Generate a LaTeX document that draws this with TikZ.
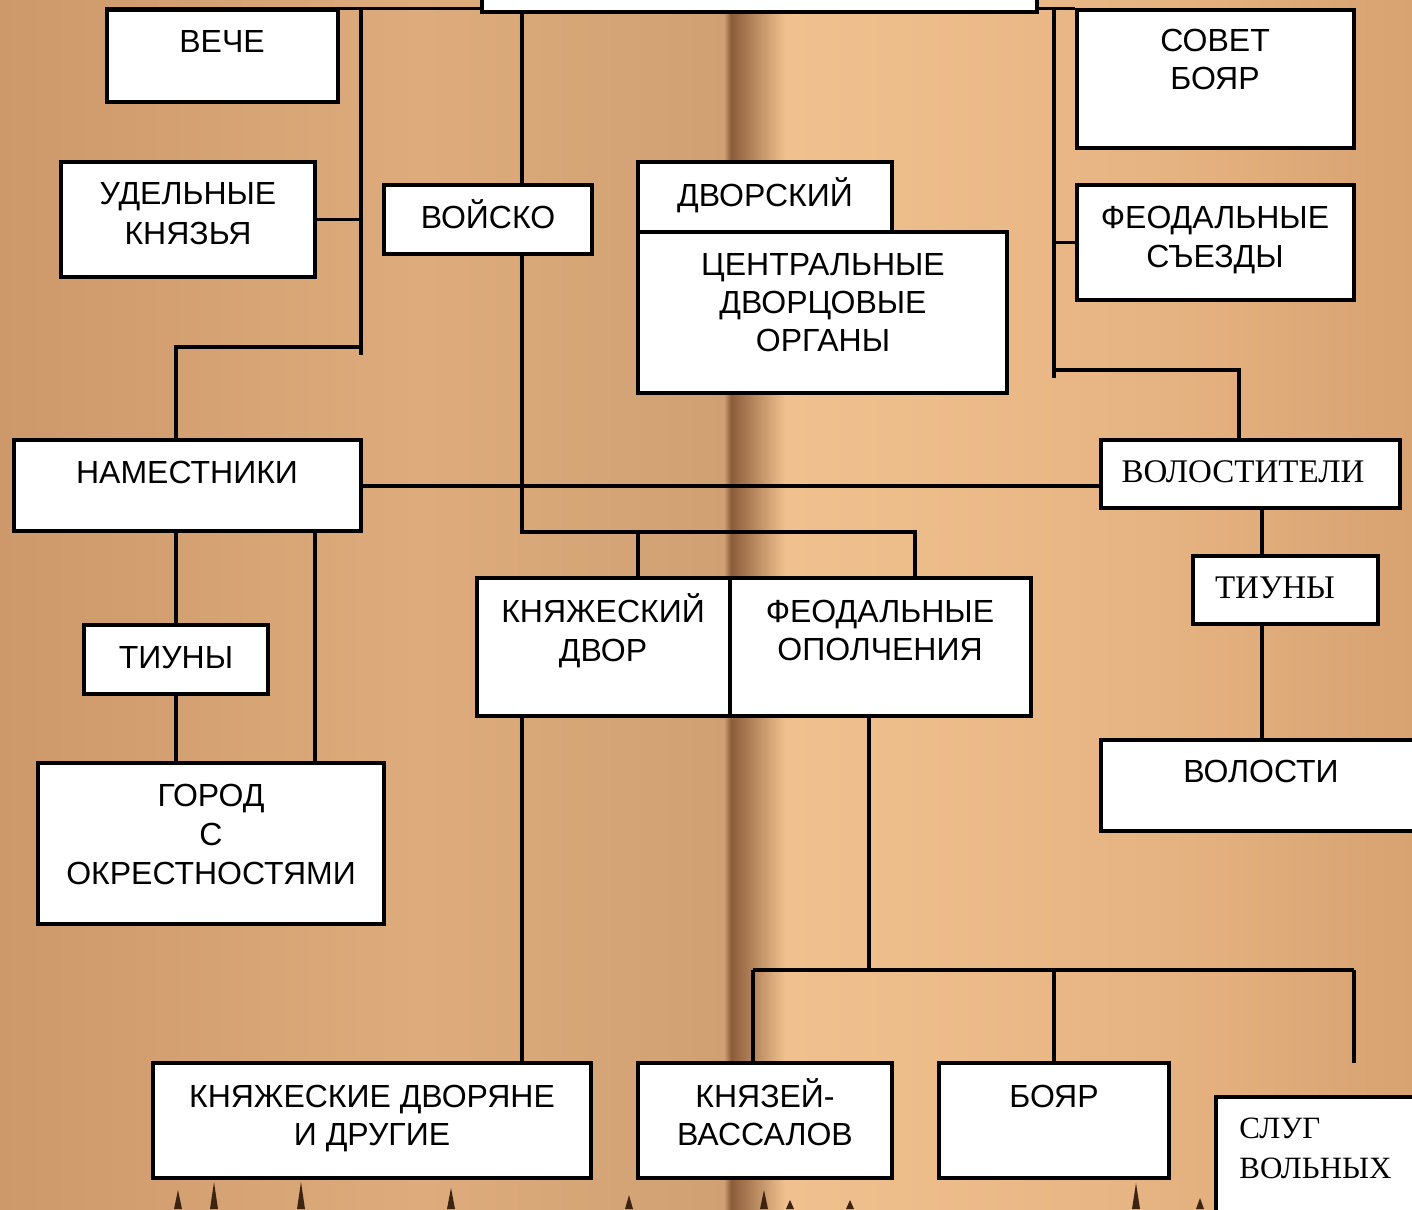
\documentclass[tikz,border=0pt]{standalone}
\usepackage{fontspec}
\setmainfont{Liberation Sans}
\newfontfamily\serifru{Liberation Serif}
\usetikzlibrary{fit}
\definecolor{bgA}{RGB}{205,152,106}
\definecolor{bgB}{RGB}{222,172,124}
\definecolor{bgC}{RGB}{208,160,115}
\definecolor{bgFold}{RGB}{140,92,58}
\definecolor{bgD}{RGB}{240,193,142}
\definecolor{bgE}{RGB}{230,180,130}
\definecolor{bgF}{RGB}{216,162,113}
\definecolor{spike}{RGB}{60,35,18}
\begin{document}
\begin{tikzpicture}[x=0.5pt,y=-0.5pt,
  box/.style={draw=black, fill=white, line width=1.6pt, inner sep=0pt},
  ln/.style={line width=1.6pt, draw=black},
  tx/.style={anchor=base, inner sep=0pt, font=\fontsize{16}{19}\selectfont},
  txs/.style={anchor=base, inner sep=0pt, font=\serifru\fontsize{16.5}{19}\selectfont},
  txl/.style={anchor=base west, inner sep=0pt, font=\serifru\fontsize{15.5}{19}\selectfont},
]
% background
\useasboundingbox (0,0) rectangle (1412,1209);
\shade[left color=bgA, right color=bgB] (0,0) rectangle (420,1209);
\shade[left color=bgB, right color=bgC] (420,0) rectangle (724,1209);
\shade[left color=bgC, right color=bgFold] (724,0) rectangle (731,1209);
\shade[left color=bgFold, right color=bgD] (731,0) rectangle (785,1209);
\shade[left color=bgD, right color=bgE] (785,0) rectangle (1150,1209);
\shade[left color=bgE, right color=bgF] (1150,0) rectangle (1412,1209);
% page-edge spikes at bottom
\foreach \sx/\sy in {178/1190,214/1182,301/1182,451/1188,629/1195,764/1190,790/1200,850/1200,1136/1183,1200/1198}{
  \fill[spike] (\sx-4,1209) -- (\sx,\sy) -- (\sx+4,1209) -- cycle;
}
% boxes
\node[box, fit={(482,-10)(1037,12)}] (top) {};
\node[box, fit={(107,10)(338,102)}] (veche) {};
\node[box, fit={(61,162)(315,277)}] (udel) {};
\node[box, fit={(384,185)(592,254)}] (voisko) {};
\node[box, fit={(638,162)(892,232)}] (dvorsk) {};
\node[box, fit={(638,232)(1007,393)}] (centr) {};
\node[box, fit={(1077,10)(1354,148)}] (sovet) {};
\node[box, fit={(1077,185)(1354,300)}] (sezd) {};
\node[box, fit={(14,440)(361,531)}] (namest) {};
\node[box, fit={(1101,440)(1400,508)}] (volost) {};
\node[box, fit={(84,625)(268,694)}] (tiunL) {};
\node[box, fit={(1193,556)(1378,624)}] (tiunR) {};
\node[box, fit={(38,763)(384,924)}] (gorod) {};
\node[box, fit={(1101,740)(1430,831)}] (volosti) {};
\node[box, fit={(477,578)(730,716)}] (kdvor) {};
\node[box, fit={(730,578)(1031,716)}] (opolch) {};
\node[box, fit={(153,1063)(591,1178)}] (dvoryane) {};
\node[box, fit={(638,1063)(892,1178)}] (vassal) {};
\node[box, fit={(939,1063)(1169,1178)}] (boyar) {};
\node[box, fit={(1216,1097)(1430,1240)}] (slug) {};
% texts
\node[tx] (t-veche) at (222,53) {ВЕЧЕ};
\node[tx] (t-udel1) at (188,205) {УДЕЛЬНЫЕ};
\node[tx] (t-udel2) at (188,244) {КНЯЗЬЯ};
\node[tx] (t-voisko) at (488,228) {ВОЙСКО};
\node[tx] (t-dvorsk) at (765,206) {ДВОРСКИЙ};
\node[tx] (t-centr1) at (823,275) {ЦЕНТРАЛЬНЫЕ};
\node[tx] (t-centr2) at (823,313) {ДВОРЦОВЫЕ};
\node[tx] (t-centr3) at (823,351) {ОРГАНЫ};
\node[tx] (t-sovet1) at (1215,52) {СОВЕТ};
\node[tx] (t-sovet2) at (1215,90) {БОЯР};
\node[tx] (t-sezd1) at (1215,228) {ФЕОДАЛЬНЫЕ};
\node[tx] (t-sezd2) at (1215,267) {СЪЕЗДЫ};
\node[tx] (t-namest) at (187,483) {НАМЕСТНИКИ};
\node[txs] (t-volost) at (1243,482) {ВОЛОСТИТЕЛИ};
\node[tx] (t-tiunL) at (176,668) {ТИУНЫ};
\node[txs] (t-tiunR) at (1275,598) {ТИУНЫ};
\node[tx] (t-gorod1) at (211,806) {ГОРОД};
\node[tx] (t-gorod2) at (211,845) {С};
\node[tx] (t-gorod3) at (211,884) {ОКРЕСТНОСТЯМИ};
\node[tx] (t-volosti) at (1261,782) {ВОЛОСТИ};
\node[tx] (t-kdvor1) at (603,622) {КНЯЖЕСКИЙ};
\node[tx] (t-kdvor2) at (603,661) {ДВОР};
\node[tx] (t-opolch1) at (880,622) {ФЕОДАЛЬНЫЕ};
\node[tx] (t-opolch2) at (880,660) {ОПОЛЧЕНИЯ};
\node[tx] (t-dvor1) at (372,1107) {КНЯЖЕСКИЕ ДВОРЯНЕ};
\node[tx] (t-dvor2) at (372,1145) {И ДРУГИЕ};
\node[tx] (t-vas1) at (765,1107) {КНЯЗЕЙ-};
\node[tx] (t-vas2) at (765,1145) {ВАССАЛОВ};
\node[tx] (t-boyar) at (1054,1107) {БОЯР};
\node[txl] (t-slug1) at (1239,1138) {СЛУГ};
\node[txl] (t-slug2) at (1239,1178) {ВОЛЬНЫХ};
% junction coordinates
\coordinate (jL) at (361,9);
\coordinate (jLb) at (361,355);
\coordinate (jN) at (361,347);
\coordinate (jNl) at (176,347);
\coordinate (jR) at (1054,9);
\coordinate (jRb) at (1054,378);
\coordinate (jV) at (1054,370);
\coordinate (jVr) at (1239,370);
\coordinate (jTop) at (522,12);
\coordinate (jK) at (522,532);
\coordinate (jK1) at (638,532);
\coordinate (jK2) at (915,532);
\coordinate (jO) at (869,970);
\coordinate (jO1) at (753,970);
\coordinate (jO2) at (1054,970);
\coordinate (jO3) at (1354,970);
\coordinate (jO3b) at (1354,1063);
% connectors
\draw[ln] (veche.north west) -- (top.west |- veche.north west);
\draw[ln] (top.east |- sovet.north) -- (sovet.north west);
\draw[ln] (jL) -- (jLb);
\draw[ln] (udel.east) -- (udel.east -| jL);
\draw[ln] (jN) -- (jNl) -- (jNl |- namest.north);
\draw[ln] (jTop) -- (jTop |- voisko.north);
\draw[ln] (jTop |- voisko.south) -- (jK) -- (jK2) -- (jK2 |- opolch.north);
\draw[ln] (jK1) -- (jK1 |- kdvor.north);
\draw[ln] (jR) -- (jRb);
\draw[ln] (sezd.west -| jR) -- (sezd.west);
\draw[ln] (jV) -- (jVr) -- (jVr |- volost.north);
\draw[ln] (namest.east |- 0,486) -- (volost.west |- 0,486);
\draw[ln] (1262,508) -- (1262,556);
\draw[ln] (1262,624) -- (1262,740);
\draw[ln] (176,531) -- (176,625);
\draw[ln] (176,694) -- (176,763);
\draw[ln] (315,531) -- (315,763);
\draw[ln] (522,716) -- (522,1063);
\draw[ln] (869,716) -- (jO);
\draw[ln] (jO1) -- (jO3);
\draw[ln] (jO1) -- (jO1 |- vassal.north);
\draw[ln] (jO2) -- (jO2 |- boyar.north);
\draw[ln] (jO3) -- (jO3b);
\end{tikzpicture}
\end{document}
